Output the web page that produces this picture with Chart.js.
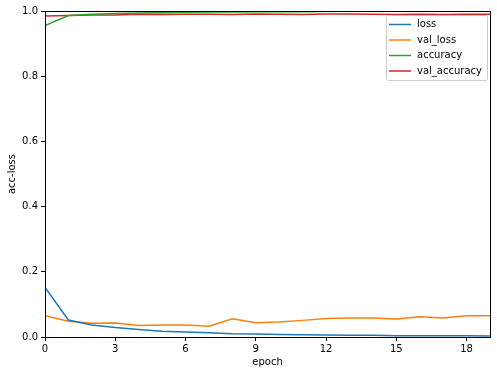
<!DOCTYPE html>
<html>
<head>
<meta charset="utf-8">
<script src="https://cdn.jsdelivr.net/npm/chart.js@4"></script>
<style>
  html, body { margin: 0; padding: 0; background: #fff; }
  #wrap { width: 497px; height: 375px; }
</style>
</head>
<body>
<div id="wrap"><canvas id="chart" width="497" height="375"></canvas></div>
<script>
var epochs = [0, 1, 2, 3, 4, 5, 6, 7, 8, 9, 10, 11, 12, 13, 14, 15, 16, 17, 18, 19];
var loss = [0.152, 0.052, 0.037, 0.029, 0.023, 0.018, 0.015, 0.013, 0.010, 0.009,
            0.008, 0.007, 0.006, 0.005, 0.005, 0.004, 0.004, 0.004, 0.004, 0.003];
var valLoss = [0.065, 0.048, 0.042, 0.043, 0.035, 0.037, 0.037, 0.033, 0.056, 0.044,
               0.046, 0.051, 0.057, 0.058, 0.058, 0.055, 0.062, 0.058, 0.065, 0.065];
var accuracy = [0.955, 0.986, 0.990, 0.992, 0.994, 0.995, 0.996, 0.997, 0.997, 0.998,
                0.998, 0.998, 0.999, 0.999, 0.999, 0.999, 0.999, 0.999, 0.999, 0.999];
var valAccuracy = [0.985, 0.986, 0.988, 0.988, 0.990, 0.989, 0.990, 0.990, 0.989, 0.991,
                   0.990, 0.989, 0.991, 0.991, 0.990, 0.989, 0.990, 0.989, 0.990, 0.990];
var xTicks = [0, 3, 6, 9, 12, 15, 18];
var seriesNames = ['loss', 'val_loss', 'accuracy', 'val_accuracy'];
var colors = ['#1f77b4', '#ff7f0e', '#2ca02c', '#d62728'];

function points(values) {
    return epochs.map(function (e, i) { return { x: e, y: values[i] }; });
}

var font = 'DejaVu Sans';

// box around the plot and legend in the upper right, matplotlib style
var framePlugin = {
    id: 'frame',
    afterDraw: function (chart) {
        var ctx = chart.ctx;
        var a = chart.chartArea;
        ctx.save();
        ctx.strokeStyle = '#000';
        ctx.lineWidth = 1;
        ctx.strokeRect(Math.round(a.left) + 0.5, Math.round(a.top) + 0.5,
                       Math.round(a.right - a.left), Math.round(a.bottom - a.top));

        var bx = 386, by = 15, bw = 101, bh = 65;
        ctx.fillStyle = 'rgba(255,255,255,0.8)';
        ctx.strokeStyle = '#cccccc';
        ctx.beginPath();
        ctx.roundRect(bx + 0.5, by + 0.5, bw, bh, 2);
        ctx.fill();
        ctx.stroke();

        ctx.font = '10px ' + font;
        ctx.textBaseline = 'middle';
        ctx.fillStyle = '#000';
        chart.data.datasets.forEach(function (ds, i) {
            var y = by + 9.5 + i * 15.5;
            ctx.strokeStyle = ds.borderColor;
            ctx.lineWidth = 1.5;
            ctx.beginPath();
            ctx.moveTo(bx + 3, y);
            ctx.lineTo(bx + 25, y);
            ctx.stroke();
            ctx.fillText(ds.label, bx + 31, y);
        });
        ctx.restore();
    }
};

new Chart(document.getElementById('chart').getContext('2d'), {
    type: 'line',
    data: {
        datasets: [
            { label: seriesNames[0], data: points(loss) },
            { label: seriesNames[1], data: points(valLoss) },
            { label: seriesNames[2], data: points(accuracy) },
            { label: seriesNames[3], data: points(valAccuracy) }
        ].map(function (ds, i) {
            ds.borderColor = colors[i];
            ds.backgroundColor = colors[i];
            ds.borderWidth = 1.5;
            ds.pointRadius = 0;
            ds.tension = 0;
            ds.fill = false;
            return ds;
        })
    },
    options: {
        responsive: false,
        animation: false,
        layout: { padding: { left: 0, right: 7, top: 11, bottom: 0 } },
        plugins: {
            legend: { display: false },
            tooltip: { enabled: false }
        },
        scales: {
            x: {
                type: 'linear',
                min: 0,
                max: 19,
                afterFit: function (s) { s.height = 38; },
                afterBuildTicks: function (s) {
                    s.ticks = xTicks.map(function (v) { return { value: v }; });
                },
                ticks: {
                    color: '#000',
                    padding: 2,
                    maxRotation: 0,
                    autoSkip: false,
                    font: { family: font, size: 10 }
                },
                grid: { drawOnChartArea: false, drawTicks: true, tickLength: 4, color: '#000' },
                border: { display: true, color: '#000' },
                title: {
                    display: true,
                    text: 'epoch',
                    color: '#000',
                    padding: { top: 0, bottom: 7 },
                    font: { family: font, size: 10 }
                }
            },
            y: {
                min: 0,
                max: 1,
                afterFit: function (s) { s.width = 45; },
                ticks: {
                    stepSize: 0.2,
                    color: '#000',
                    padding: 3,
                    font: { family: font, size: 10 },
                    callback: function (v) { return v.toFixed(1); }
                },
                grid: { drawOnChartArea: false, drawTicks: true, tickLength: 4, color: '#000' },
                border: { display: true, color: '#000' },
                title: {
                    display: true,
                    text: 'acc-loss',
                    color: '#000',
                    padding: { top: 6, bottom: 0 },
                    font: { family: font, size: 10 }
                }
            }
        }
    },
    plugins: [framePlugin]
});
</script>
</body>
</html>
